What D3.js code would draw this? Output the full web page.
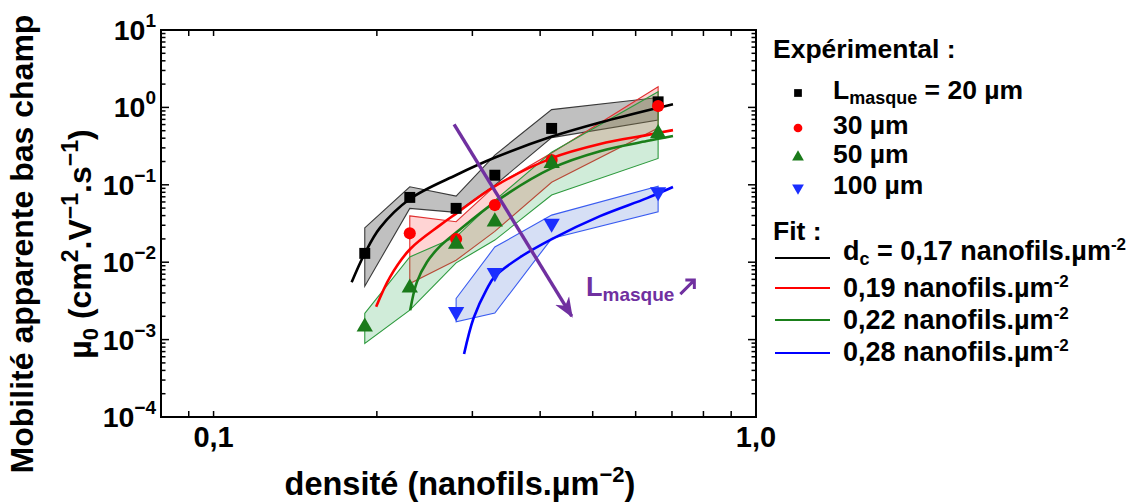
<!DOCTYPE html>
<html><head><meta charset="utf-8">
<script src="https://cdn.jsdelivr.net/npm/d3@7"></script>
<style>
body{margin:0;background:#fff}
text{font-family:"Liberation Sans",Arial,sans-serif;font-weight:bold;fill:#000}
</style>
</head><body>
<svg id="c" width="1136" height="503"></svg>
<script>
// ---------- data ----------
const densities = [0.19, 0.23, 0.28, 0.33, 0.42, 0.66];
const mu20  = [0.0130, 0.0687, 0.0496, 0.133, 0.535, 1.18];
const mu30  = [null, 0.0236, 0.0199, 0.0547, 0.2085, 1.04];
const mu50  = [0.00146, 0.00467, 0.0171, 0.0333, 0.189, 0.461];
const mu100 = [null, null, 0.00229, 0.0073, 0.0317, 0.081];

const band20Upper  = [0.0278, 0.0942, 0.0714, 0.242, 0.937, 1.34];
const band20Lower  = [0.0049, 0.0496, 0.044, 0.099, 0.407, 0.685];
const band30Upper  = [null, 0.0397, 0.0333, 0.096, 0.257, 1.85];
const band30Lower  = [null, 0.0053, 0.0106, 0.025, 0.108, 0.54];
const band50Upper  = [0.00218, 0.0117, 0.0213, 0.063, 0.264, 1.59];
const band50Lower  = [0.00089, 0.0024, 0.0098, 0.0193, 0.0736, 0.219];
const band100Upper = [null, null, 0.0034, 0.0157, 0.0406, 0.096];
const band100Lower = [null, null, 0.0017, 0.0022, 0.0202, 0.0448];

const fit017D  = [0.1797, 0.19, 0.2028, 0.2304, 0.2808, 0.3303, 0.4203, 0.5157, 0.6633, 0.703];
const fit017Mu = [0.0055, 0.013, 0.028, 0.066, 0.135, 0.225, 0.42, 0.64, 1.0, 1.1];
const fit019D  = [0.1994, 0.2116, 0.2304, 0.2616, 0.2808, 0.3303, 0.4203, 0.5157, 0.629, 0.703];
const fit019Mu = [0.00265, 0.00648, 0.0148, 0.0301, 0.0431, 0.0962, 0.221, 0.336, 0.4385, 0.509];
const fit022D  = [0.2304, 0.237, 0.2473, 0.2616, 0.2808, 0.3303, 0.4203, 0.5157, 0.629, 0.703];
const fit022Mu = [0.0024, 0.00553, 0.01, 0.0161, 0.0245, 0.0598, 0.164, 0.272, 0.367, 0.426];
const fit028D  = [0.2896, 0.3016, 0.3189, 0.3303, 0.3673, 0.4203, 0.5157, 0.6297, 0.703];
const fit028Mu = [0.00065, 0.0019, 0.0045, 0.0066, 0.0116, 0.0199, 0.0394, 0.0673, 0.0935];

const xTickValues = [0.1, 1.0];
const xTickLabels = ["0,1", "1,0"];
const yTickExponents = [1, 0, -1, -2, -3, -4];

const expLabels = ["= 20 µm", "30 µm", "50 µm", "100 µm"];
const fitLabels = ["= 0,17 nanofils.µm", "0,19 nanofils.µm", "0,22 nanofils.µm", "0,28 nanofils.µm"];

const arrowStart = [0.2776, 0.603];
const arrowEnd   = [0.4573, 0.00201];
const arrowLabelPos = [0.486, 0.00365];

// ---------- setup ----------
const svg = d3.select("#c");
const x = d3.scaleLog().domain([0.08, 1]).range([161, 756]);
const y = d3.scaleLog().domain([1e-4, 10]).range([417, 30]);
const X0 = 161, X1 = 756, Y0 = 417, Y1 = 30;

const series = [
  {mu: mu20, up: band20Upper, lo: band20Lower, fd: fit017D, fm: fit017Mu,
   fill: "rgba(105,105,105,0.42)", edge: "#3a3a3a", line: "#000", mk: "#000", sym: d3.symbolSquare, rot: 0, size: 120},
  {mu: mu30, up: band30Upper, lo: band30Lower, fd: fit019D, fm: fit019Mu,
   fill: "rgba(255,60,60,0.22)", edge: "#e03030", line: "#ff0000", mk: "#ff0000", sym: d3.symbolCircle, rot: 0, size: 115},
  {mu: mu50, up: band50Upper, lo: band50Lower, fd: fit022D, fm: fit022Mu,
   fill: "rgba(40,170,80,0.22)", edge: "#2e9a3e", line: "#1a7f1a", mk: "#1a7a1a", sym: d3.symbolTriangle, rot: 0, size: 115},
  {mu: mu100, up: band100Upper, lo: band100Lower, fd: fit028D, fm: fit028Mu,
   fill: "rgba(70,110,210,0.22)", edge: "#3a5cf0", line: "#0000ff", mk: "#1a2eff", sym: d3.symbolTriangle, rot: 180, size: 115}
];

// bands
series.forEach(s => {
  const up = [], lo = [];
  densities.forEach((d, i) => {
    if (s.up[i] != null) up.push([x(d), y(s.up[i])]);
    if (s.lo[i] != null) lo.push([x(d), y(s.lo[i])]);
  });
  const pts = up.concat(lo.reverse());
  svg.append("path").attr("d", "M" + pts.join("L") + "Z")
    .attr("fill", s.fill).attr("stroke", s.edge).attr("stroke-width", 1.1);
});

// fits
const line = d3.line().x(p => x(p[0])).y(p => y(p[1])).curve(d3.curveCatmullRom.alpha(0.5));
series.forEach(s => {
  svg.append("path").attr("d", line(s.fd.map((d, i) => [d, s.fm[i]])))
    .attr("fill", "none").attr("stroke", s.line).attr("stroke-width", 2.6);
});

// markers
series.forEach(s => {
  densities.forEach((d, i) => {
    if (s.mu[i] == null) return;
    svg.append("path").attr("d", d3.symbol().type(s.sym).size(s.size)())
      .attr("transform", `translate(${x(d)},${y(s.mu[i])}) rotate(${s.rot})`)
      .attr("fill", s.mk);
  });
});

// frame + ticks
const ax = svg.append("g").attr("stroke", "#000");
ax.append("rect").attr("x", X0).attr("y", Y1).attr("width", X1 - X0).attr("height", Y0 - Y1)
  .attr("fill", "none").attr("stroke-width", 2);
x.ticks().forEach(t => {
  if (x(t) <= X0 + 1 || x(t) >= X1 - 1) return;
  ax.append("line").attr("x1", x(t)).attr("x2", x(t)).attr("y1", Y0).attr("y2", Y0 - 6).attr("stroke-width", 1.5);
  ax.append("line").attr("x1", x(t)).attr("x2", x(t)).attr("y1", Y1).attr("y2", Y1 + 6).attr("stroke-width", 1.5);
});
y.ticks().forEach(t => {
  const yy = y(t);
  if (yy <= Y1 + 1 || yy >= Y0 - 1) return;
  const major = Math.abs(Math.log10(t) - Math.round(Math.log10(t))) < 1e-6;
  const L = major ? 8 : 4.5;
  ax.append("line").attr("x1", X0).attr("x2", X0 + L).attr("y1", yy).attr("y2", yy).attr("stroke-width", 1.5);
  ax.append("line").attr("x1", X1).attr("x2", X1 - L).attr("y1", yy).attr("y2", yy).attr("stroke-width", 1.5);
});

// x tick labels
xTickValues.forEach((v, i) => {
  svg.append("text").attr("x", x(v)).attr("y", 447).attr("text-anchor", "middle")
    .attr("font-size", 29).text(xTickLabels[i]);
});
// y tick labels
yTickExponents.forEach(e => {
  const t = svg.append("text").attr("x", 156).attr("y", y(Math.pow(10, e)) + 10)
    .attr("text-anchor", "end").attr("font-size", 28.5);
  t.append("tspan").text("10");
  t.append("tspan").attr("font-size", 19).attr("dy", -13).text(e < 0 ? "\u2212" + (-e) : String(e));
});

// axis titles
const xt = svg.append("text").attr("x", 460).attr("y", 495).attr("text-anchor", "middle").attr("font-size", 32.5);
xt.append("tspan").text("densité (nanofils.µm");
xt.append("tspan").attr("font-size", 22).attr("dy", -13).text("\u22122");
xt.append("tspan").attr("dy", 13).text(")");

svg.append("text").attr("transform", "translate(33,244) rotate(-90)")
  .attr("text-anchor", "middle").attr("font-size", 32).text("Mobilité apparente bas champ");
const yt2 = svg.append("text").attr("transform", "translate(91,244) rotate(-90)")
  .attr("text-anchor", "middle").attr("font-size", 32);
yt2.append("tspan").text("µ");
yt2.append("tspan").attr("font-size", 22).attr("dy", 7).text("0");
yt2.append("tspan").attr("dy", -7).text(" (cm");
yt2.append("tspan").attr("font-size", 23).attr("dy", -13).text("2");
yt2.append("tspan").attr("dy", 13).text(".V");
yt2.append("tspan").attr("font-size", 23).attr("dy", -13).text("\u22121");
yt2.append("tspan").attr("dy", 13).text(".s");
yt2.append("tspan").attr("font-size", 23).attr("dy", -13).text("\u22121");
yt2.append("tspan").attr("dy", 13).text(")");

// purple arrow
const defs = svg.append("defs");
defs.append("marker").attr("id", "ah").attr("viewBox", "0 0 10 10").attr("refX", 9).attr("refY", 5)
  .attr("markerWidth", 6).attr("markerHeight", 6).attr("orient", "auto")
  .append("path").attr("d", "M0,1 L10,5 L0,9 L3,5 Z").attr("fill", "#7030a0");
svg.append("line").attr("x1", x(arrowStart[0])).attr("y1", y(arrowStart[1]))
  .attr("x2", x(arrowEnd[0])).attr("y2", y(arrowEnd[1]))
  .attr("stroke", "#7030a0").attr("stroke-width", 3.4).attr("marker-end", "url(#ah)");
const al = svg.append("text").attr("x", x(arrowLabelPos[0])).attr("y", y(arrowLabelPos[1]))
  .attr("font-size", 27).style("fill", "#7030a0");
al.append("tspan").text("L");
al.append("tspan").attr("font-size", 19).attr("dy", 5).text("masque");
const alw = al.node().getComputedTextLength();
const ax0 = x(arrowLabelPos[0]) + alw + 6, ay0 = y(arrowLabelPos[1]) - 2;
svg.append("path").attr("d", `M${ax0},${ay0} L${ax0 + 14},${ay0 - 14} M${ax0 + 5},${ay0 - 14} L${ax0 + 14},${ay0 - 14} L${ax0 + 14},${ay0 - 5}`)
  .attr("fill", "none").attr("stroke", "#7030a0").attr("stroke-width", 3);

// legend
svg.append("text").attr("x", 773).attr("y", 58).attr("font-size", 26.5).text("Expérimental :");
const legY = [99, 134, 163, 194];
series.forEach((s, i) => {
  svg.append("path").attr("d", d3.symbol().type(s.sym).size(60)())
    .attr("transform", `translate(798,${legY[i] - 6}) rotate(${s.rot})`).attr("fill", s.mk);
  const t = svg.append("text").attr("x", 833).attr("y", legY[i]).attr("font-size", 26.5);
  if (i === 0) {
    t.append("tspan").text("L");
    t.append("tspan").attr("font-size", 18).attr("dy", 5).text("masque");
    t.append("tspan").attr("dy", -5).text(" " + expLabels[i]);
  } else {
    t.text(expLabels[i]);
  }
});
svg.append("text").attr("x", 773).attr("y", 240).attr("font-size", 26.5).text("Fit :");
const fitY = [260, 297, 329, 361];
const fitLineY = [258, 288, 320, 353];
series.forEach((s, i) => {
  svg.append("line").attr("x1", 775).attr("x2", 830).attr("y1", fitLineY[i]).attr("y2", fitLineY[i])
    .attr("stroke", s.line).attr("stroke-width", 2);
  const t = svg.append("text").attr("x", 843).attr("y", fitY[i]).attr("font-size", 27);
  if (i === 0) {
    t.append("tspan").text("d");
    t.append("tspan").attr("font-size", 18).attr("dy", 5).text("c");
    t.append("tspan").attr("dy", -5).text(" " + fitLabels[i]);
  } else {
    t.append("tspan").text(fitLabels[i]);
  }
  t.append("tspan").attr("font-size", 17).attr("dy", -10).text("-2");
});
</script>
</body></html>
